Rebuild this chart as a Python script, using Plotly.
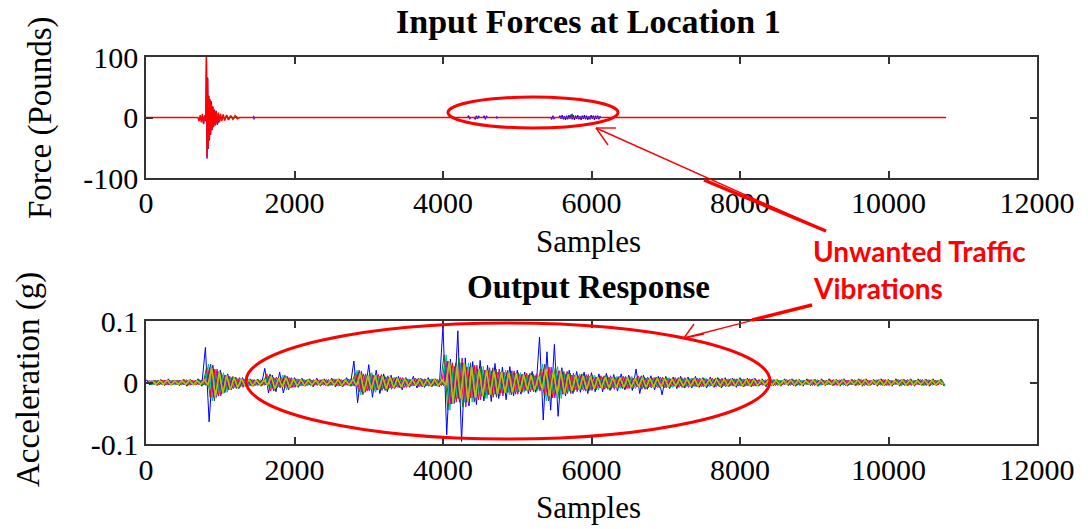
import numpy as np
import plotly.graph_objects as go

# ---------------------------------------------------------------------------
# Data
# ---------------------------------------------------------------------------
n_samples = 10776

x_ticks = [0, 2000, 4000, 6000, 8000, 10000, 12000]
x_tick_labels = ["0", "2000", "4000", "6000", "8000", "10000", "12000"]
force_ticks = [-100, 0, 100]
force_tick_labels = ["-100", "0", "100"]
acc_ticks = [-0.1, 0, 0.1]
acc_tick_labels = ["-0.1", "0", "0.1"]

# Input force, location 1 (pounds) - three channels; None separates bursts
force_red_samples = [0, 700, 715, 730, 745, 760, 775, 790, 805, 814, 822, 830, 838,
                     846, 854, 862, 870, 880, 890, 900, 910, 922, 934, 946, 960, 975,
                     990, 1005, 1020, 1040, 1060, 1085, 1110, 1140, 1170, 1200, 1230,
                     1260, 10776]
force_red_values = [0, 0, -6, 4, -8, 6, -10, 3, -5, 100, -66, 64, -50,
                    35, -36, 29, -28, 25, -20, 18, -15, 12, -12, 10, -11, 8,
                    -8, 6, -6, 5, -5, 4, -4, 3, -3, 3, -2,
                    0, 0]

force_blue_samples = [770, 775, 790, 805, 814, 822, 830, 838, 846, 854, 862, 870,
                      880, 890, 900, 910, 922, 934, 946, 960, 990, None,
                      1450, 1455, 1460, None,
                      4330, 4345, 4360, 4375, None,
                      4420, 4435, 4450, 4465, 4480, 4495, None,
                      4540, 4555, 4570, 4585, 4600, None,
                      4720, 4730, None,
                      5450, 5465, 5480, 5495, 5510, None,
                      5560, 5575, 5590, 5605, 5620, 5635, 5650, 5665, 5680, 5695,
                      5710, 5725, 5740, 5755, 5770, 5785, 5800, 5815, 5830, 5845,
                      5860, 5875, 5890, 5905, 5920, 5935, 5950, 5965, 5980, 5995,
                      6010, 6025, 6040, 6055, 6070, 6085, 6100, 6115, 6125]
force_blue_values = [0, -11, 3, -6, 101, -68, 66, -52, 36, -38, 30, -29,
                     27, -21, 18, -16, 13, -13, 11, -12, 0, None,
                     3, -3, 0, None,
                     0, 3, -2, 0, None,
                     0, -3, 3, -2, 2, 0, None,
                     0, 3, -3, 2, 0, None,
                     2, -2, None,
                     0, -3, 3, -2, 0, None,
                     0, 3, -2, 4, -3, 2, -4, 3, -3, 4,
                     -2, 5, -3, 4, -4, 3, -2, 4, -3, 2,
                     -4, 3, -2, 4, -3, 3, -4, 2, -3, 4,
                     -2, 3, -4, 3, -2, 3, -3, 2, 0]

force_green_samples = [760, 775, 790, None, 1030, 1060, 1090, 1120, 1150, 1180,
                       1210, 1240, None, 5725, 5740, 5755]
force_green_values = [0, -4, 0, None, 3, -2, 3, -2, 2, -2,
                      2, 0, None, 0, 6, 0]

# Output response (milli-g), per 100-sample block:
# block maximum / minimum, typical channel amplitude and core amplitude
acc_block = 100
acc_peak_max = [5, 4, 5, 6, 4, 5, 5, 6,
                57, 28, 20, 14, 9, 8, 6, 5, 23, 12, 17, 10,
                8, 7, 6, 7, 6, 7, 6, 8, 35, 18, 29, 20,
                14, 12, 10, 8, 10, 7, 8, 6, 93, 38, 84, 40,
                34, 36, 28, 31, 25, 26, 20, 17, 18, 74, 50, 62,
                24, 20, 18, 17, 16, 14, 15, 13, 14, 12, 22, 12,
                11, 10, 10, 9, 10, 9, 10, 8, 9, 8, 8, 7,
                8, 7, 7, 6,
                6, 5, 6, 6, 5, 6, 5, 6, 6, 5, 6, 5,
                6, 6, 5, 6, 5, 6, 5, 6, 6, 5, 6, 5]
acc_peak_min = [-4, -5, -5, -4, -5, -6, -4, -6,
                -64, -24, -17, -12, -10, -7, -6, -6, -17, -15, -17, -9,
                -8, -6, -7, -6, -6, -7, -7, -6, -33, -16, -24, -18,
                -15, -10, -12, -8, -9, -8, -7, -7, -85, -34, -96, -38,
                -36, -30, -31, -26, -28, -22, -19, -18, -16, -61, -45, -55,
                -22, -18, -16, -18, -15, -15, -13, -14, -12, -13, -18, -11,
                -12, -20, -10, -10, -9, -9, -8, -9, -8, -9, -7, -8,
                -7, -7, -6, -7,
                -5, -6, -5, -6, -6, -5, -6, -5, -5, -6, -6, -5,
                -6, -5, -6, -5, -6, -6, -5, -6, -5, -6, -5, -6]
acc_mid = [4, 4, 4, 4, 4, 5, 4, 5,
           30, 22, 16, 10, 8, 6, 5, 5, 14, 9, 12, 8,
           6, 5, 5, 5, 5, 6, 5, 6, 20, 14, 16, 13,
           11, 9, 8, 6, 7, 6, 6, 5, 45, 32, 40, 32,
           28, 26, 24, 22, 20, 19, 16, 15, 14, 30, 25, 26,
           18, 15, 14, 13, 12, 11, 11, 10, 10, 10, 11, 9,
           9, 9, 8, 8, 8, 7, 7, 7, 7, 7, 6, 6,
           6, 6, 5, 5,
           5, 4, 5, 5, 4, 5, 5, 4, 5, 5, 4, 5,
           5, 4, 5, 5, 4, 5, 5, 4, 5, 5, 4, 5]
acc_core = [3, 3, 4, 3, 3, 4, 3, 4,
            24, 18, 12, 8, 6, 5, 4, 4, 10, 7, 8, 6,
            5, 4, 4, 4, 4, 5, 4, 5, 15, 11, 12, 10,
            9, 7, 6, 5, 6, 5, 5, 4, 35, 26, 32, 25,
            22, 20, 19, 17, 16, 15, 13, 12, 11, 22, 18, 19,
            14, 12, 11, 10, 9, 9, 8, 8, 8, 7, 8, 7,
            7, 7, 6, 6, 6, 6, 6, 5, 5, 5, 5, 5,
            5, 5, 4, 4,
            4, 3, 4, 4, 3, 4, 4, 3, 4, 4, 3, 4,
            4, 3, 4, 4, 3, 4, 4, 3, 4, 4, 3, 4]

# ---------------------------------------------------------------------------
# Styling
# ---------------------------------------------------------------------------
W, H = 1088, 529
SERIF = "Liberation Serif, Times New Roman, serif"
AXIS_COLOR = "#333333"
RED = "#ff0000"

# MATLAB-style colour order for the response channels
acc_peak_color = "#0000ff"
acc_colors = ["#008000", "#ff0000", "#00bfbf", "#bf00bf", "#404040"]
acc_core_color = "#bfbf00"
acc_offsets = [0, 14, 28, 43, 57, 71, 86]
# which amplitude a secondary channel shows in a block, cycling from block to block
level_cycle = ["mid", "core", "mid", "core", "core"]


def px(x):
    return x / W


def py(y):
    return 1 - y / H


fig = go.Figure()

# --- top panel: input forces ---
for xs, ys, col, w in [
    (force_blue_samples, force_blue_values, "#0000ff", 1.2),
    (force_green_samples, force_green_values, "#008000", 1.2),
    (force_red_samples, force_red_values, "#ff0000", 1.5),
]:
    fig.add_trace(go.Scatter(x=xs, y=ys, mode="lines", line=dict(color=col, width=w),
                             xaxis="x", yaxis="y", hoverinfo="skip"))

# --- bottom panel: output response, one up/down swing per block and channel ---
peak_max = np.array(acc_peak_max) / 1000.0
peak_min = np.array(acc_peak_min) / 1000.0
mid = np.array(acc_mid) / 1000.0
core = np.array(acc_core) / 1000.0
half = acc_block / 2


def swing(level, i):
    if level == "peak":
        return peak_max[i], peak_min[i]
    if level == "mid":
        return mid[i], -mid[i]
    return core[i], -core[i]


channels = ([("peak", acc_peak_color, None)]
            + [("cycle", col, c) for c, col in enumerate(acc_colors)]
            + [("core", acc_core_color, None)])
for k, (kind, col, c) in enumerate(channels):
    xs, ys = [], []
    for i in range(len(acc_peak_max)):
        x0 = i * acc_block + acc_offsets[k]
        if x0 + half > n_samples:
            break
        level = kind if kind != "cycle" else level_cycle[(c + i) % len(level_cycle)]
        h, l = swing(level, i)
        xs += [x0, x0 + half]
        ys += [h, l]
    fig.add_trace(go.Scatter(x=xs, y=ys, mode="lines",
                             line=dict(color=col, width=1.6 if kind == "core" else 1.0),
                             xaxis="x2", yaxis="y2", hoverinfo="skip"))

axis_common = dict(
    showline=True, mirror="ticks", linecolor=AXIS_COLOR, linewidth=1.5,
    ticks="inside", ticklen=7, tickwidth=1.5, tickcolor=AXIS_COLOR,
    showgrid=False, zeroline=False, automargin=False,
    tickfont=dict(family=SERIF, size=30, color="black"),
)

x_dom = [px(146), px(1037)]
fig.update_layout(
    width=W, height=H,
    margin=dict(l=0, r=0, t=0, b=0, autoexpand=False),
    paper_bgcolor="white", plot_bgcolor="white",
    showlegend=False,
    xaxis=dict(domain=x_dom, anchor="y", range=[0, 12000], ticklabelstandoff=-3,
               tickvals=x_ticks, ticktext=x_tick_labels, **axis_common),
    yaxis=dict(domain=[py(178), py(57)], anchor="x", range=[-100, 100],
               tickvals=force_ticks, ticktext=force_tick_labels, **axis_common),
    xaxis2=dict(domain=x_dom, anchor="y2", range=[0, 12000], ticklabelstandoff=-2,
                tickvals=x_ticks, ticktext=x_tick_labels, **axis_common),
    yaxis2=dict(domain=[py(444), py(321)], anchor="x2", range=[-0.1, 0.1],
                tickvals=acc_ticks, ticktext=acc_tick_labels, **axis_common),
)

# --- titles and axis labels ---
texts = [
    ("<b>Input Forces at Location 1</b>", 588, 22, 34, 0),
    ("<b>Output Response</b>", 588, 287, 33, 0),
    ("Samples", 588, 242, 31, 0),
    ("Samples", 588, 507, 31, 0),
    ("Force (Pounds)", 40, 118, 33, -90),
    ("Acceleration (g)", 28, 380, 33, -90),
]
for txt, x, y, size, ang in texts:
    fig.add_annotation(text=txt, x=px(x), y=py(y), xref="paper", yref="paper",
                       xanchor="center", yanchor="middle", showarrow=False,
                       textangle=ang, font=dict(family=SERIF, size=size, color="black"))

# --- highlight: ellipses, arrows and callout text ---
fig.add_shape(type="circle", xref="paper", yref="paper",
              x0=px(448), x1=px(618), y0=py(128), y1=py(97),
              line=dict(color=RED, width=3))
fig.add_shape(type="circle", xref="paper", yref="paper",
              x0=px(246), x1=px(770), y0=py(439), y1=py(323),
              line=dict(color=RED, width=3))


def seg(x0, y0, x1, y1, w):
    fig.add_shape(type="line", xref="paper", yref="paper",
                  x0=px(x0), y0=py(y0), x1=px(x1), y1=py(y1),
                  line=dict(color=RED, width=w))


# arrow towards the force panel
seg(596, 128, 826, 231, 1.4)
seg(704, 180, 826, 231, 3.5)
seg(596, 128, 616, 128, 1.4)
seg(596, 128, 608, 145, 1.4)
# arrow towards the response panel
seg(684, 338, 812, 305, 1.4)
seg(752, 320, 812, 305, 3.5)
seg(684, 338, 694, 324, 1.4)
seg(684, 338, 704, 334, 1.4)

for txt, y in [("Unwanted Traffic", 251), ("Vibrations", 288)]:
    fig.add_annotation(text=f"<b>{txt}</b>", x=px(811), y=py(y), xref="paper", yref="paper",
                       xanchor="left", yanchor="middle", showarrow=False,
                       font=dict(family="Lato, sans-serif", size=28, color=RED))

fig.write_html("out.html")
